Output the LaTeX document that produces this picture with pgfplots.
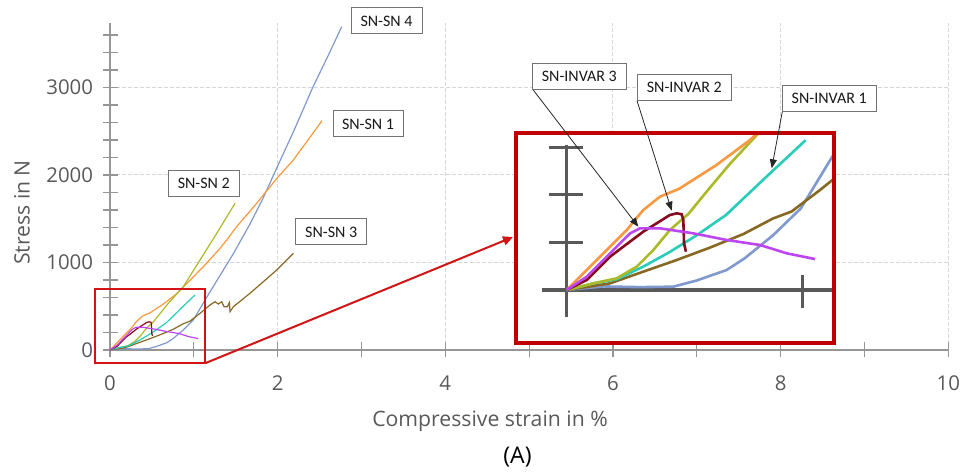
\documentclass[border=0pt]{standalone}
\usepackage{fontspec}
\setmainfont{Open Sans}
\newfontfamily\boxfont{Carlito}
\usepackage{pgfplots}
\pgfplotsset{compat=1.18}
\usepackage{pgfplotstable}
\usetikzlibrary{arrows.meta}

\definecolor{axgray}{RGB}{150,150,150}
\definecolor{gridgray}{RGB}{215,215,215}
\definecolor{labgray}{RGB}{89,89,89}
\definecolor{cBlue}{RGB}{127,153,206}
\definecolor{cOrange}{RGB}{248,152,64}
\definecolor{cYellow}{RGB}{172,186,42}
\definecolor{cBrown}{RGB}{135,105,35}
\definecolor{cCyan}{RGB}{40,205,185}
\definecolor{cDarkRed}{RGB}{135,10,30}
\definecolor{cPurple}{RGB}{190,70,240}
\definecolor{cRed}{RGB}{210,20,20}
\definecolor{cInset}{RGB}{192,0,0}
\definecolor{insetax}{RGB}{89,89,89}

% SN-SN 4
\pgfplotstableread{
x y
0 0
0.156 15
0.311 12
0.453 14
0.552 40
0.679 84
0.755 133
0.875 229
0.994 343
1.134 571
1.273 790
1.471 1100
1.67 1440
1.829 1740
2.008 2120
2.2 2520
2.418 3000
2.6 3360
2.764 3695
}\snsnfour
% SN-SN 1
\pgfplotstableread{
x y
0 0
0.099 98
0.184 182
0.255 252
0.325 336
0.396 392
0.477 425
0.636 525
0.778 630
0.875 720
1.113 952
1.313 1162
1.392 1257
1.511 1410
1.75 1677
1.989 1960
2.187 2172
2.4 2450
2.53 2621
}\snsnone
% SN-SN 2
\pgfplotstableread{
x y
0 0
0.113 28
0.212 49
0.297 98
0.368 168
0.438 252
0.517 320
0.608 430
0.693 530
0.778 620
0.875 724
1.074 1029
1.273 1333
1.492 1677
}\snsntwo
% SN-SN 3
\pgfplotstableread{
x y
0 0
0.184 28
0.325 77
0.467 126
0.608 178
0.75 235
0.875 300
0.955 330
1.074 419
1.193 514
1.253 552
1.292 525
1.333 552
1.36 495
1.40 495
1.424 541
1.432 438
1.472 495
1.67 648
1.989 914
2.187 1105
}\snsnthree
% SN-INVAR 1
\pgfplotstableread{
x y
0 0
0.113 28
0.212 45
0.325 98
0.438 160
0.552 230
0.676 315
0.863 490
1.014 629
}\invarone
% SN-INVAR 2
\pgfplotstableread{
x y
0 0
0.085 42
0.184 140
0.325 245
0.438 315
0.467 322
0.488 318
0.495 294
0.498 196
0.506 161
}\invartwo
% SN-INVAR 3
\pgfplotstableread{
x y
0 0
0.085 56
0.184 154
0.269 238
0.311 259
0.396 259
0.537 238
0.679 210
0.82 189
0.934 154
1.054 130
}\invarthree

\begin{document}
\begin{tikzpicture}
\path[use as bounding box] (0pt,0pt) rectangle (480.5pt,-237pt);
\begin{axis}[
  at={(55pt,-175pt)}, anchor=south west,
  scale only axis, width=419.15pt, height=163.625pt,
  xmin=0, xmax=10, ymin=0, ymax=3740,
  axis lines=left,
  axis line style={-, draw=axgray, line width=0.6pt},
  xtick={0,2,4,6,8,10}, minor xtick={1,3,5,7,9},
  ytick={0,1000,2000,3000},
  minor ytick={200,400,600,800,1200,1400,1600,1800,2200,2400,2600,2800,3200,3400,3600},
  tick align=center,
  major tick length=7.5pt, minor tick length=7.5pt,
  every tick/.style={draw=axgray, line width=0.6pt},
  grid=major,
  major grid style={draw=gridgray, line width=0.5pt, dash pattern=on 2pt off 1pt},
  /pgf/number format/assume math mode=true,
  /pgf/number format/set thousands separator={},
  tick label style={font=\fontsize{10.2}{12}\selectfont, text=labgray},
  xticklabel style={yshift=-5.5pt},
  yticklabel style={xshift=-1.2pt},
  clip=false,
]
\addplot[cBlue, line width=0.6pt] table {\snsnfour};
\addplot[cOrange, line width=0.6pt] table {\snsnone};
\addplot[cYellow, line width=0.6pt] table {\snsntwo};
\addplot[cBrown, line width=0.6pt] table {\snsnthree};
\addplot[cCyan, line width=0.6pt] table {\invarone};
\addplot[cDarkRed, line width=0.6pt] table {\invartwo};
\addplot[cPurple, line width=0.6pt] table {\invarthree};
\end{axis}

\begin{scope}[x=0.5pt,y=-0.5pt]
\draw[cRed, line width=1pt] (95,289) rectangle (205,363.3);
\draw[cRed, line width=1pt, -{Triangle[length=5pt,width=4.5pt]}] (205,363.3) -- (513,237);
\fill[white] (516,133) rectangle (834,343);
\end{scope}

\begin{axis}[
  at={(258pt,-171.5pt)}, anchor=south west,
  scale only axis, width=159pt, height=105pt,
  xmin=-0.2152, xmax=1.1346, ymin=-222.6, ymax=659.4,
  hide axis,
]
\draw[insetax, line width=1.6pt] (axis cs:-0.105,0) -- (axis cs:1.1346,0);
\draw[insetax, line width=1.6pt] (axis cs:0,-112) -- (axis cs:0,609);
\draw[insetax, line width=1.6pt] (axis cs:-0.074,200) -- (axis cs:0.071,200);
\draw[insetax, line width=1.6pt] (axis cs:-0.074,400) -- (axis cs:0.071,400);
\draw[insetax, line width=1.6pt] (axis cs:-0.074,600) -- (axis cs:0.071,600);
\draw[insetax, line width=1.6pt] (axis cs:1,-77) -- (axis cs:1,63);
\addplot[cBlue, line width=1.3pt] table {\snsnfour};
\addplot[cBrown, line width=1.3pt] table {\snsnthree};
\addplot[cCyan, line width=1.3pt] table {\invarone};
\addplot[cYellow, line width=1.3pt] table {\snsntwo};
\addplot[cOrange, line width=1.3pt] table {\snsnone};
\addplot[cDarkRed, line width=1.3pt] table {\invartwo};
\addplot[cPurple, line width=1.3pt] table {\invarthree};
\end{axis}

\begin{scope}[x=0.5pt,y=-0.5pt]
\draw[cInset, line width=1.6pt] (516,133) rectangle (834,343);
% leader arrows
\draw[black!85, line width=0.4pt, -{Triangle[length=4.5pt,width=3.5pt]}] (532.7,89.3) -- (638.3,226.7);
\draw[black!85, line width=0.4pt, -{Triangle[length=4.5pt,width=3.5pt]}] (637,100.7) -- (671.7,210.7);
\draw[black!85, line width=0.4pt, -{Triangle[length=4.5pt,width=3.5pt]}] (782.3,111.7) -- (771.7,168.3);
% label boxes
\tikzset{lbl/.style={draw=black!55, line width=0.5pt, fill=white, inner sep=0pt,
  minimum height=13pt, font=\boxfont\fontsize{8}{9}\selectfont, text=black!90}}
\node[lbl, minimum width=35.5pt] at (386.5,21) {SN-SN 4};
\node[lbl, minimum width=35pt] at (368,124) {SN-SN 1};
\node[lbl, minimum width=35.5pt] at (203.8,183.7) {SN-SN 2};
\node[lbl, minimum width=35.5pt] at (331.2,232) {SN-SN 3};
\node[lbl, minimum width=46.7pt] at (579.3,76.3) {SN-INVAR 3};
\node[lbl, minimum width=47.3pt] at (684.3,87.3) {SN-INVAR 2};
\node[lbl, minimum width=46.8pt] at (829.2,98.3) {SN-INVAR 1};
% axis titles
\node[font=\fontsize{10.6}{12}\selectfont, text=labgray] at (490,421.7) {Compressive strain in \%};
\node[font=\fontsize{10.6}{12}\selectfont, text=labgray, rotate=90] at (22,212.5) {Stress in N};
\node[font=\fontsize{11.5}{13}\selectfont, text=black] at (517.5,456.7) {(A)};
\end{scope}
\end{tikzpicture}
\end{document}
